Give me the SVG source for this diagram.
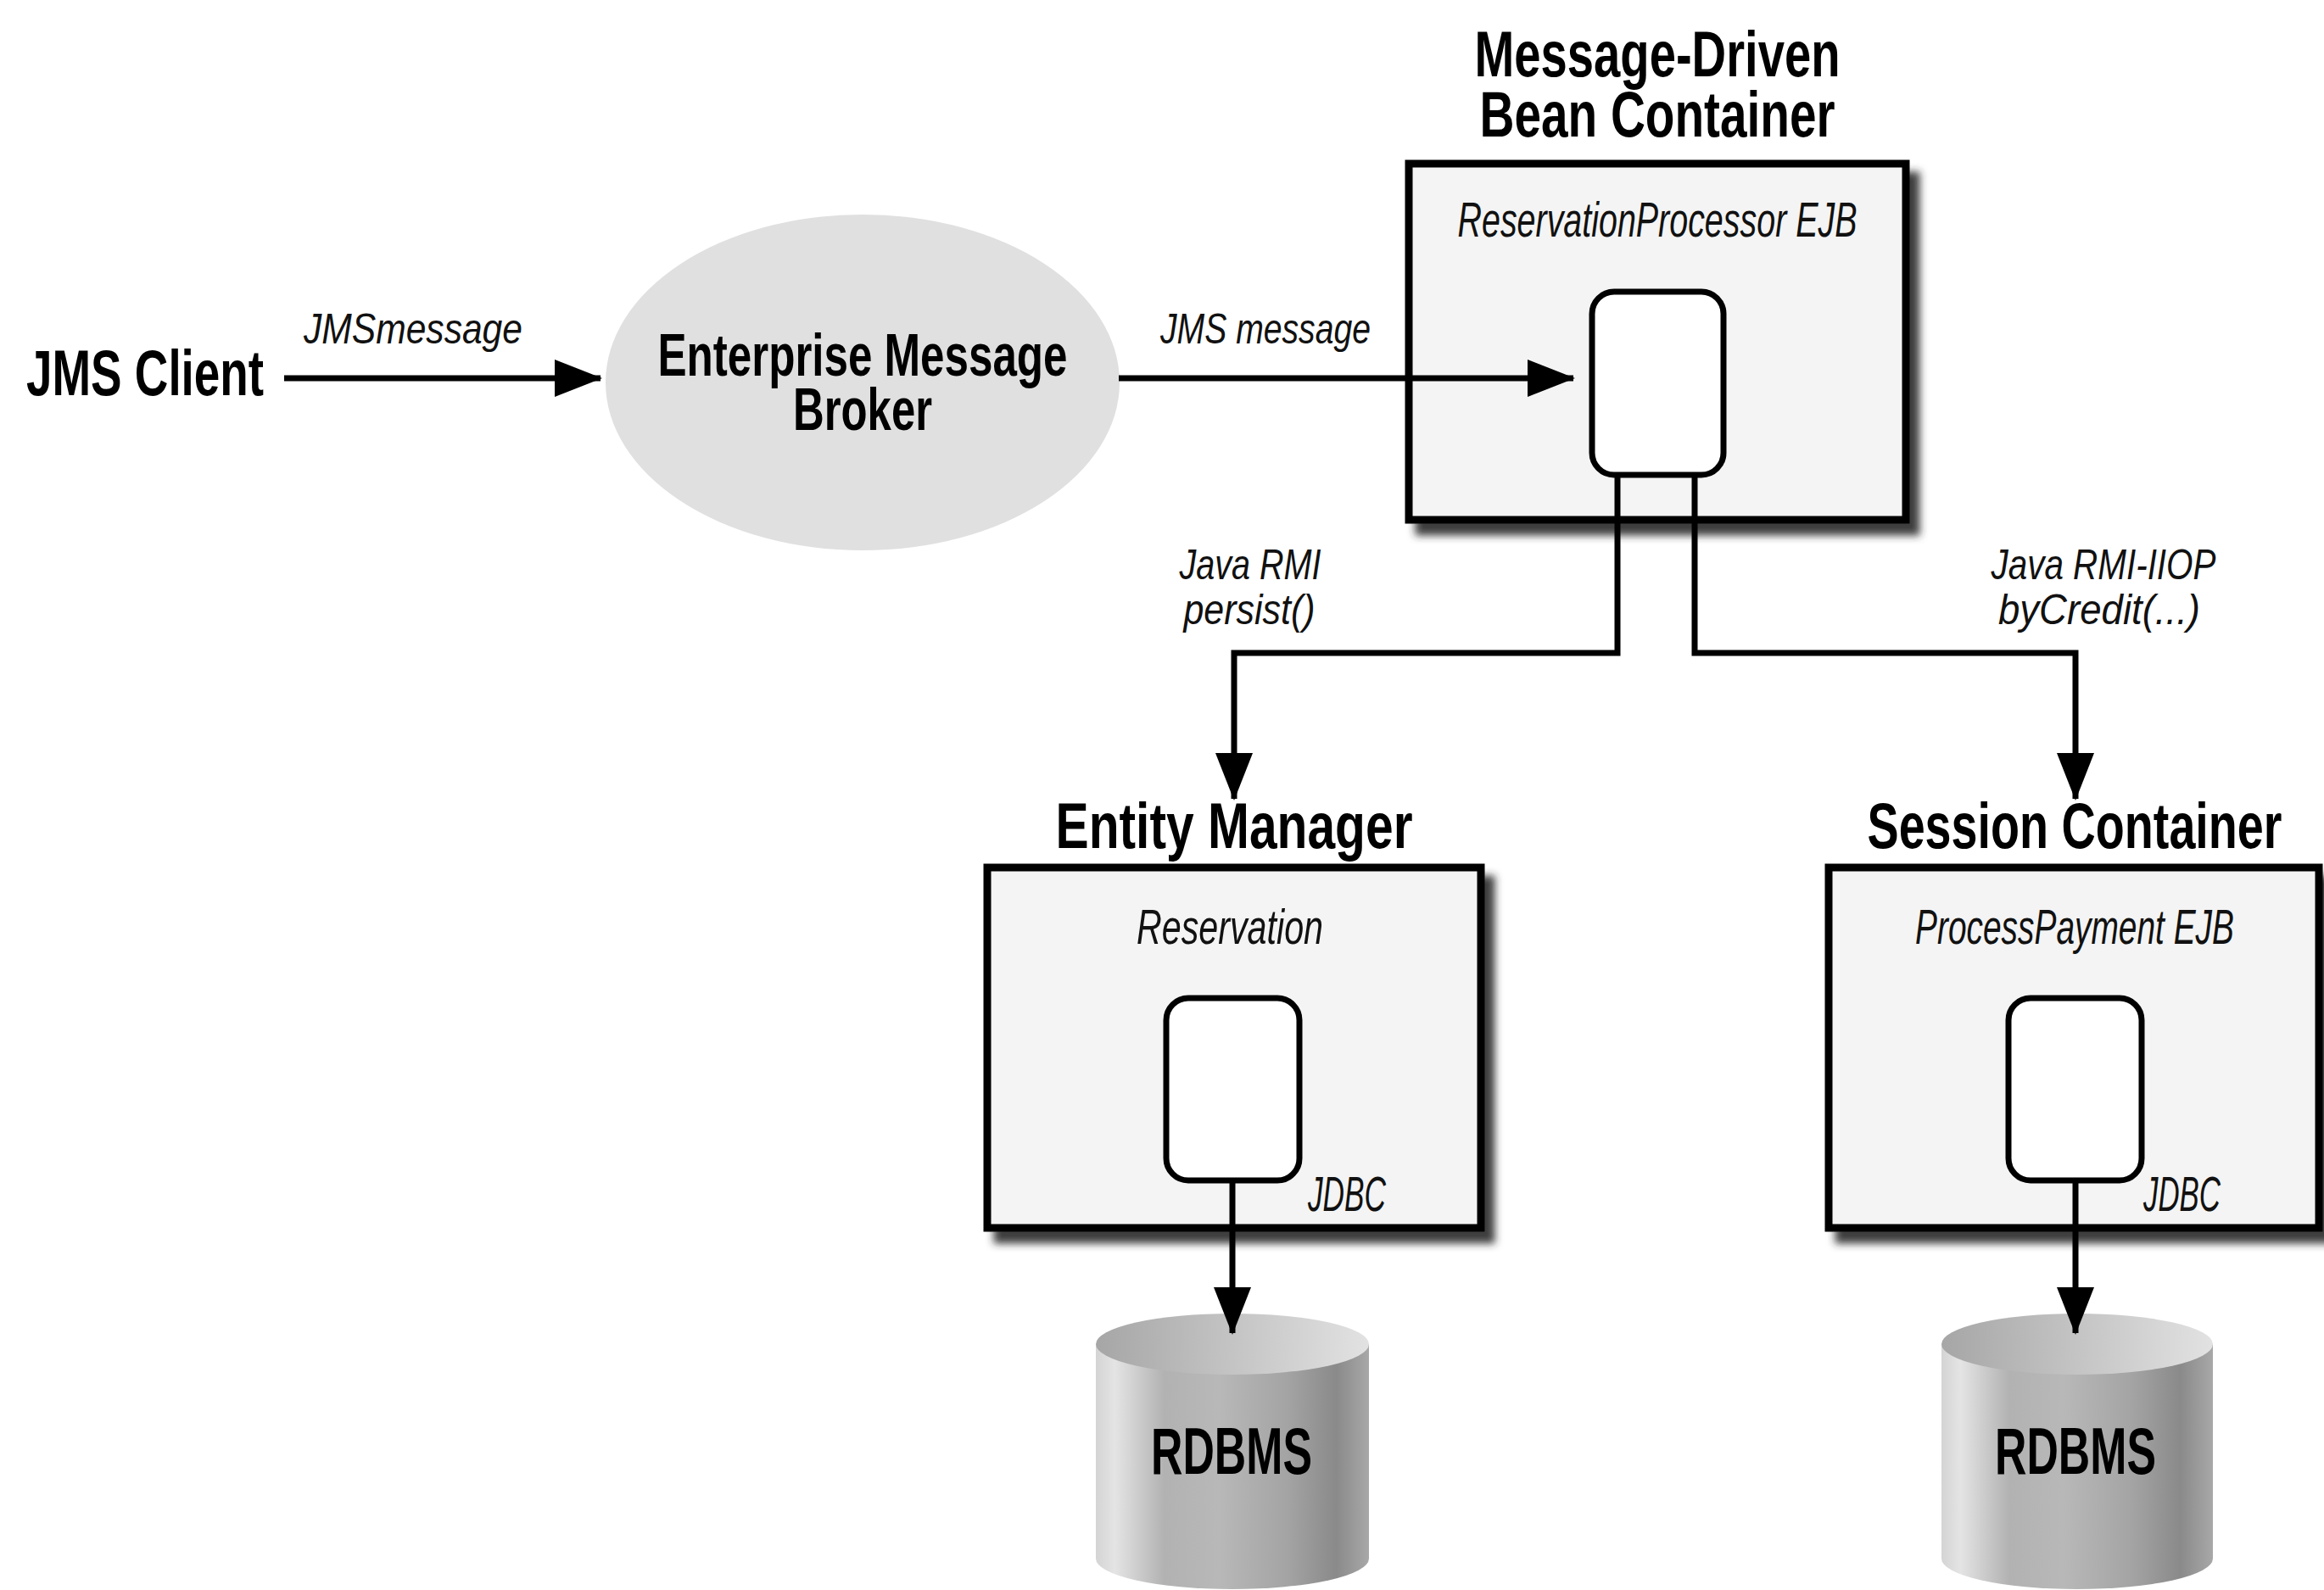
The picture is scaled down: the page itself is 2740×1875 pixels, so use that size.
<svg xmlns="http://www.w3.org/2000/svg" width="2740" height="1875" viewBox="0 0 2740 1875">
  <defs>
    <style>
      .head { font-family: "Liberation Sans", Arial, sans-serif; font-weight: bold; font-size: 76px; fill: #000; }
      .broker { font-size: 70px; }
      .ital { font-family: "Liberation Sans", Arial, sans-serif; font-style: italic; font-size: 58px; fill: #111; }
      .lbl  { font-family: "Liberation Sans", Arial, sans-serif; font-style: italic; font-size: 50px; fill: #111; }
      .db   { font-family: "Liberation Sans", Arial, sans-serif; font-weight: bold; font-size: 78px; fill: #000; }
      .box  { fill: #f4f4f4; stroke: #000; stroke-width: 9; filter: url(#shadow); }
      .bean { fill: #fff; stroke: #000; stroke-width: 7; }
      .wire { fill: none; stroke: #000; stroke-width: 7; }
      .arrow { marker-end: url(#head); }
    </style>
    <marker id="head" viewBox="0 0 56 44" refX="54" refY="22" markerWidth="56" markerHeight="44" markerUnits="userSpaceOnUse" orient="auto">
      <path d="M0,0 L56,22 L0,44 Z" fill="#000"/>
    </marker>
    <filter id="shadow" x="-10%" y="-10%" width="130%" height="130%">
      <feGaussianBlur in="SourceAlpha" stdDeviation="5"/>
      <feOffset dx="12" dy="14" result="off"/>
      <feFlood flood-color="#2a2a2a" flood-opacity="0.9"/>
      <feComposite in2="off" operator="in"/>
      <feMerge>
        <feMergeNode/>
        <feMergeNode in="SourceGraphic"/>
      </feMerge>
    </filter>
    <linearGradient id="cylBody" x1="0" y1="0" x2="1" y2="0">
      <stop offset="0" stop-color="#d4d4d4"/>
      <stop offset="0.07" stop-color="#e4e4e4"/>
      <stop offset="0.25" stop-color="#b2b2b2"/>
      <stop offset="0.45" stop-color="#b8b8b8"/>
      <stop offset="0.7" stop-color="#a4a4a4"/>
      <stop offset="0.88" stop-color="#8a8a8a"/>
      <stop offset="1" stop-color="#a8a8a8"/>
    </linearGradient>
    <linearGradient id="cylTop" x1="0" y1="0" x2="1" y2="0">
      <stop offset="0" stop-color="#a6a6a6"/>
      <stop offset="0.5" stop-color="#c4c4c4"/>
      <stop offset="1" stop-color="#e2e2e2"/>
    </linearGradient>
  </defs>

  <rect width="2740" height="1875" fill="#fff"/>

  <!-- JMS client -->
  <g id="jms-client">
    <text class="head" x="31" y="466" textLength="280" lengthAdjust="spacingAndGlyphs">JMS Client</text>
  </g>

  <!-- Message broker -->
  <g id="message-broker">
    <ellipse cx="1017" cy="451" rx="303" ry="198" fill="#e0e0e0"/>
    <text class="head broker" x="1017" y="443" text-anchor="middle" textLength="483" lengthAdjust="spacingAndGlyphs">Enterprise Message</text>
    <text class="head broker" x="1017" y="507" text-anchor="middle" textLength="164" lengthAdjust="spacingAndGlyphs">Broker</text>
  </g>

  <!-- Message-driven bean container -->
  <g id="mdb-container">
    <text class="head" x="1954" y="90" text-anchor="middle" textLength="431" lengthAdjust="spacingAndGlyphs">Message-Driven</text>
    <text class="head" x="1954" y="161" text-anchor="middle" textLength="419" lengthAdjust="spacingAndGlyphs">Bean Container</text>
    <rect class="box" x="1661" y="193" width="586" height="420"/>
    <text class="ital" x="1954" y="279" text-anchor="middle" textLength="471" lengthAdjust="spacingAndGlyphs">ReservationProcessor EJB</text>
    <rect class="bean" x="1877" y="344" width="155" height="216" rx="26"/>
  </g>

  <!-- Entity manager -->
  <g id="entity-manager">
    <text class="head" x="1455" y="1000" text-anchor="middle" textLength="421" lengthAdjust="spacingAndGlyphs">Entity Manager</text>
    <rect class="box" x="1164" y="1023" width="582" height="425"/>
    <text class="ital" x="1450" y="1113" text-anchor="middle" textLength="220" lengthAdjust="spacingAndGlyphs">Reservation</text>
    <rect class="bean" x="1375" y="1177" width="157" height="215" rx="26"/>
    <text class="ital" x="1542" y="1428" textLength="92" lengthAdjust="spacingAndGlyphs">JDBC</text>
  </g>

  <!-- Session container -->
  <g id="session-container">
    <text class="head" x="2446" y="1000" text-anchor="middle" textLength="489" lengthAdjust="spacingAndGlyphs">Session Container</text>
    <rect class="box" x="2156" y="1023" width="578" height="425"/>
    <text class="ital" x="2446" y="1113" text-anchor="middle" textLength="376" lengthAdjust="spacingAndGlyphs">ProcessPayment EJB</text>
    <rect class="bean" x="2368" y="1177" width="157" height="215" rx="26"/>
    <text class="ital" x="2527" y="1428" textLength="91" lengthAdjust="spacingAndGlyphs">JDBC</text>
  </g>

  <!-- Databases -->
  <g id="rdbms-left">
    <path d="M1292,1585 V1838 A161,36 0 0 0 1614,1838 V1585 Z" fill="url(#cylBody)"/>
    <ellipse cx="1453" cy="1585" rx="161" ry="36" fill="url(#cylTop)"/>
    <text class="db" x="1452" y="1738" text-anchor="middle" textLength="190" lengthAdjust="spacingAndGlyphs">RDBMS</text>
  </g>
  <g id="rdbms-right">
    <path d="M2289,1585 V1838 A160,36 0 0 0 2609,1838 V1585 Z" fill="url(#cylBody)"/>
    <ellipse cx="2449" cy="1585" rx="160" ry="36" fill="url(#cylTop)"/>
    <text class="db" x="2447" y="1738" text-anchor="middle" textLength="190" lengthAdjust="spacingAndGlyphs">RDBMS</text>
  </g>

  <!-- Connectors -->
  <g id="connectors">
    <line class="wire arrow" x1="335" y1="446" x2="708" y2="446"/>
    <text class="lbl" x="358" y="405" textLength="258" lengthAdjust="spacingAndGlyphs">JMSmessage</text>

    <line class="wire arrow" x1="1319" y1="446" x2="1855" y2="446"/>
    <text class="lbl" x="1368" y="405" textLength="248" lengthAdjust="spacingAndGlyphs">JMS message</text>

    <path class="wire arrow" d="M1907,563 V770 H1455 V942"/>
    <text class="lbl" x="1474" y="683" text-anchor="middle" textLength="167" lengthAdjust="spacingAndGlyphs">Java RMI</text>
    <text class="lbl" x="1473" y="736" text-anchor="middle" textLength="155" lengthAdjust="spacingAndGlyphs">persist()</text>

    <path class="wire arrow" d="M1998,563 V770 H2447 V942"/>
    <text class="lbl" x="2480" y="683" text-anchor="middle" textLength="265" lengthAdjust="spacingAndGlyphs">Java RMI-IIOP</text>
    <text class="lbl" x="2475" y="736" text-anchor="middle" textLength="238" lengthAdjust="spacingAndGlyphs">byCredit(...)</text>

    <line class="wire arrow" x1="1453" y1="1395" x2="1453" y2="1572"/>
    <line class="wire arrow" x1="2447" y1="1395" x2="2447" y2="1572"/>
  </g>
</svg>
